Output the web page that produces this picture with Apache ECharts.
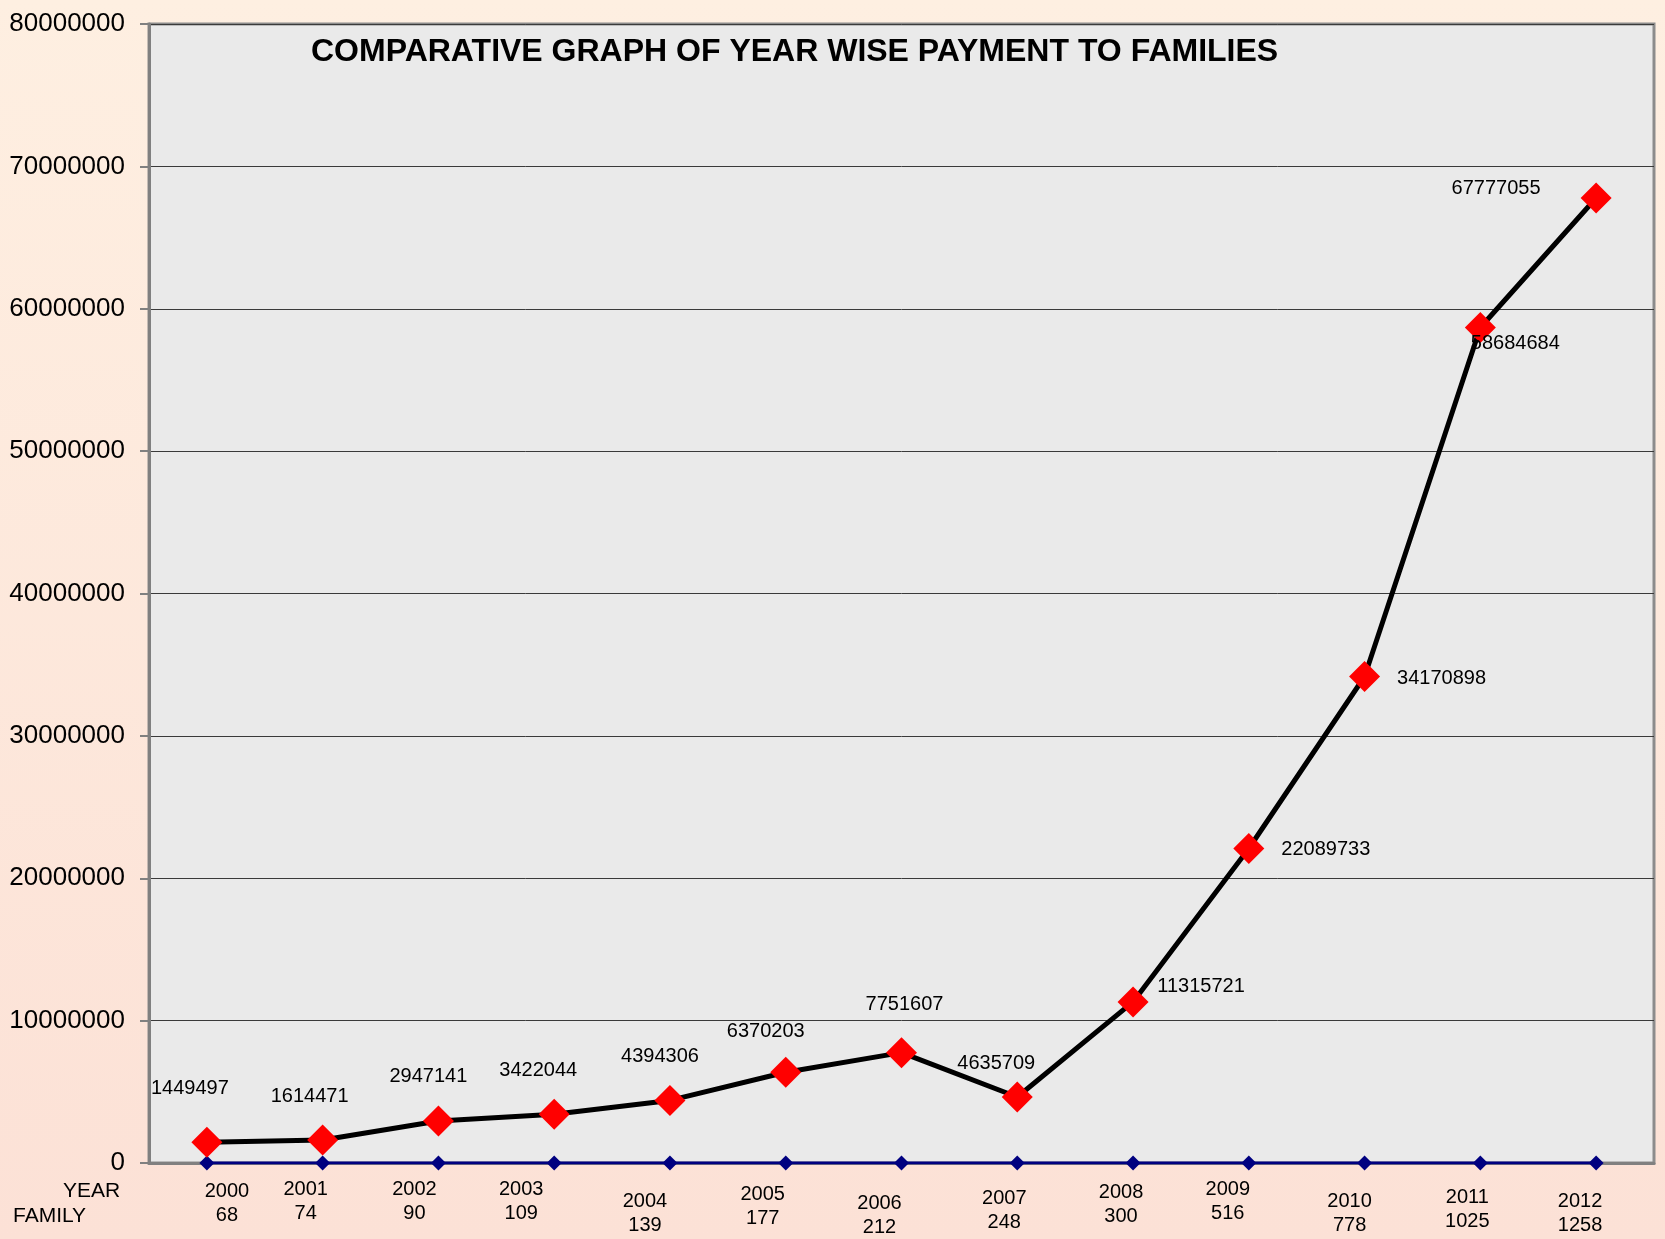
<!DOCTYPE html>
<html>
<head>
<meta charset="utf-8">
<title>COMPARATIVE GRAPH OF YEAR WISE PAYMENT TO FAMILIES</title>
<script src="https://cdn.jsdelivr.net/npm/echarts@6/dist/echarts.min.js"></script>
<style>
    html, body {margin: 0; padding: 0;}
    #psLine {width: 1665px; height: 1239px;}
</style>
</head>
<body>
<div id="psLine"></div>
<script>
// 年份 / 家庭数 / 支付金额
var years = ['2000', '2001', '2002', '2003', '2004', '2005', '2006', '2007', '2008', '2009', '2010', '2011', '2012'];
var families = [68, 74, 90, 109, 139, 177, 212, 248, 300, 516, 778, 1025, 1258];
var payments = [1449497, 1614471, 2947141, 3422044, 4394306, 6370203, 7751607, 4635709, 11315721, 22089733, 34170898, 58684684, 67777055];
var baseline = [0, 0, 0, 0, 0, 0, 0, 0, 0, 0, 0, 0, 0];
var yTicks = [0, 10000000, 20000000, 30000000, 40000000, 50000000, 60000000, 70000000, 80000000];

// 数据标签偏移 (像素)
var labelOffsets = [[-17, -54], [-13, -44], [-10, -45], [-16, -44], [-10, -44], [-20, -41], [3, -48],
    [-21, -34], [68, -15], [77, 1], [77, 2], [35, 16], [-100, -10]];
// x轴标签错位 [下移, 横移]
var xLabelShift = [[2, 20], [0, -17], [0, -24], [0, -33], [12, -25], [5, -23], [14, -22],
    [9, -13], [3, -12], [0, -21], [12, -15], [8, -13], [12, -16]];

var myChart = echarts.init(document.getElementById('psLine'));

var catData = [];
for (var i = 0; i < years.length; i++) {
    var dx = xLabelShift[i][1];
    catData.push({
        value: years[i] + '\n' + families[i],
        textStyle: {padding: [xLabelShift[i][0], dx < 0 ? -2 * dx : 0, 0, dx > 0 ? 2 * dx : 0]}
    });
}

var payData = [];
for (var j = 0; j < payments.length; j++) {
    payData.push({
        value: payments[j],
        label: {offset: labelOffsets[j]}
    });
}

var option = {
    backgroundColor: new echarts.graphic.LinearGradient(0, 0, 0, 1, [
        {offset: 0, color: '#FEEFE1'},
        {offset: 1, color: '#FCE1D6'}
    ]),
    animation: false,
    title: {
        text: 'COMPARATIVE GRAPH OF YEAR WISE PAYMENT TO FAMILIES',
        left: 306,
        top: 31,
        textStyle: {fontFamily: 'Liberation Sans, Arial', fontSize: 32, fontWeight: 'bold', color: '#000'}
    },
    grid: {
        left: 149,
        right: 11,
        top: 24,
        bottom: 74,
        show: true,
        backgroundColor: '#EAEAEA',
        borderColor: '#8C8C8C',
        borderWidth: 3
    },
    graphic: [
        {type: 'text', left: 63, top: 1181, style: {text: 'YEAR', fontFamily: 'Liberation Sans, Arial', fontSize: 21, fill: '#000'}},
        {type: 'text', left: 13, top: 1206, style: {text: 'FAMILY', fontFamily: 'Liberation Sans, Arial', fontSize: 21, fill: '#000'}}
    ],
    xAxis: {
        type: 'category',
        data: catData,
        boundaryGap: true,
        axisLine: {lineStyle: {color: '#808080', width: 3}},
        axisTick: {show: false},
        axisLabel: {
            interval: 0,
            margin: 14,
            fontFamily: 'Liberation Sans Narrow, Liberation Sans, Arial',
            fontSize: 20,
            lineHeight: 24,
            color: '#000'
        }
    },
    yAxis: {
        type: 'value',
        min: yTicks[0],
        max: yTicks[yTicks.length - 1],
        interval: 10000000,
        axisLine: {show: true, lineStyle: {color: '#808080', width: 3}},
        axisTick: {show: true, length: 9, lineStyle: {color: '#808080', width: 2}},
        splitLine: {lineStyle: {color: '#3A3A3A', width: 1}},
        axisLabel: {
            margin: 24,
            formatter: function (v) { return String(v); },
            fontFamily: 'Liberation Sans, Arial',
            fontSize: 26,
            color: '#000'
        }
    },
    series: [
        {
            name: 'FAMILY',
            type: 'line',
            data: baseline,
            symbol: 'diamond',
            symbolSize: 15,
            lineStyle: {color: '#000080', width: 3},
            itemStyle: {color: '#000080'},
            z: 3
        },
        {
            name: 'PAYMENT',
            type: 'line',
            data: payData,
            symbol: 'diamond',
            symbolSize: 31,
            lineStyle: {color: '#000', width: 5},
            itemStyle: {color: '#FF0000'},
            label: {
                show: true,
                position: 'inside',
                fontFamily: 'Liberation Sans, Arial',
                fontSize: 20,
                color: '#000'
            },
            z: 4
        }
    ]
};

myChart.setOption(option, true);

window.onresize = function () {
    setTimeout(function () {
        myChart.resize();
    }, 50);
};
</script>
</body>
</html>
